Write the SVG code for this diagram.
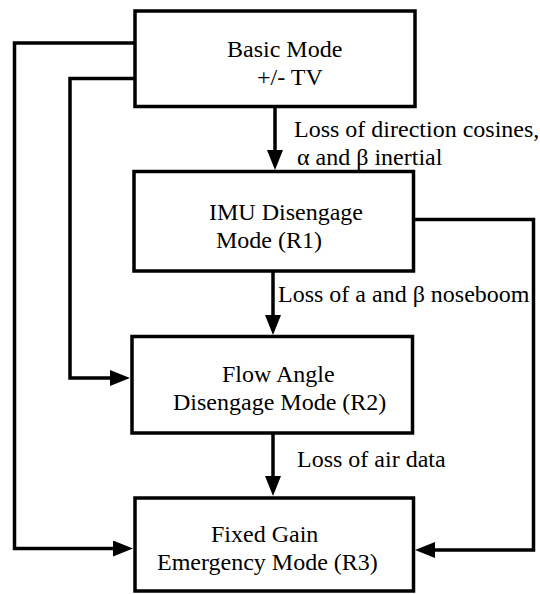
<svg xmlns="http://www.w3.org/2000/svg" width="540" height="594" viewBox="0 0 540 594">
<style>
.box{fill:#fff;stroke:#000;stroke-width:3.5}
.con{fill:none;stroke:#000;stroke-width:3.5;stroke-linejoin:miter}
text{font-family:"Liberation Serif","Times New Roman",Tinos,"DejaVu Serif",serif;font-size:24px;fill:#000}
</style>
<defs>
<marker id="ah" markerUnits="userSpaceOnUse" markerWidth="20" markerHeight="16" refX="10" refY="8" orient="auto">
<path d="M0,0 L20,8 L0,16 z" fill="#000"/>
</marker>
</defs>
<rect width="540" height="594" fill="#fff"/>
<g id="connectors">
<path class="con" d="M275,106.5 V160" marker-end="url(#ah)"/>
<path class="con" d="M273,271 V325" marker-end="url(#ah)"/>
<path class="con" d="M273,433 V486" marker-end="url(#ah)"/>
<path class="con" d="M135,43 H14.5 V548.5 H123" marker-end="url(#ah)"/>
<path class="con" d="M135,78.5 H70 V378 H120" marker-end="url(#ah)"/>
<path class="con" d="M413.5,219.5 H533.5 V550 H425" marker-end="url(#ah)"/>
</g>
<g id="labels">
<text x="294" y="137" font-size="23.5">Loss of direction cosines,</text>
<text x="297" y="165">α and β inertial</text>
<text x="278" y="302">Loss of a and β noseboom</text>
<text x="297" y="467">Loss of air data</text>
</g>
<g id="basic">
<rect class="box" x="135" y="11" width="280" height="95.5"/>
<text x="227" y="57">Basic Mode</text>
<text x="257" y="85">+/- TV</text>
</g>
<g id="r1">
<rect class="box" x="134" y="171.5" width="279.5" height="99.5"/>
<text x="209" y="220">IMU Disengage</text>
<text x="216" y="248">Mode (R1)</text>
</g>
<g id="r2">
<rect class="box" x="132" y="336.5" width="280.5" height="96.5"/>
<text x="222" y="382">Flow Angle</text>
<text x="173" y="410">Disengage Mode (R2)</text>
</g>
<g id="r3">
<rect class="box" x="135" y="498" width="278.5" height="93"/>
<text x="211" y="542">Fixed Gain</text>
<text x="157" y="570">Emergency Mode (R3)</text>
</g>
</svg>
